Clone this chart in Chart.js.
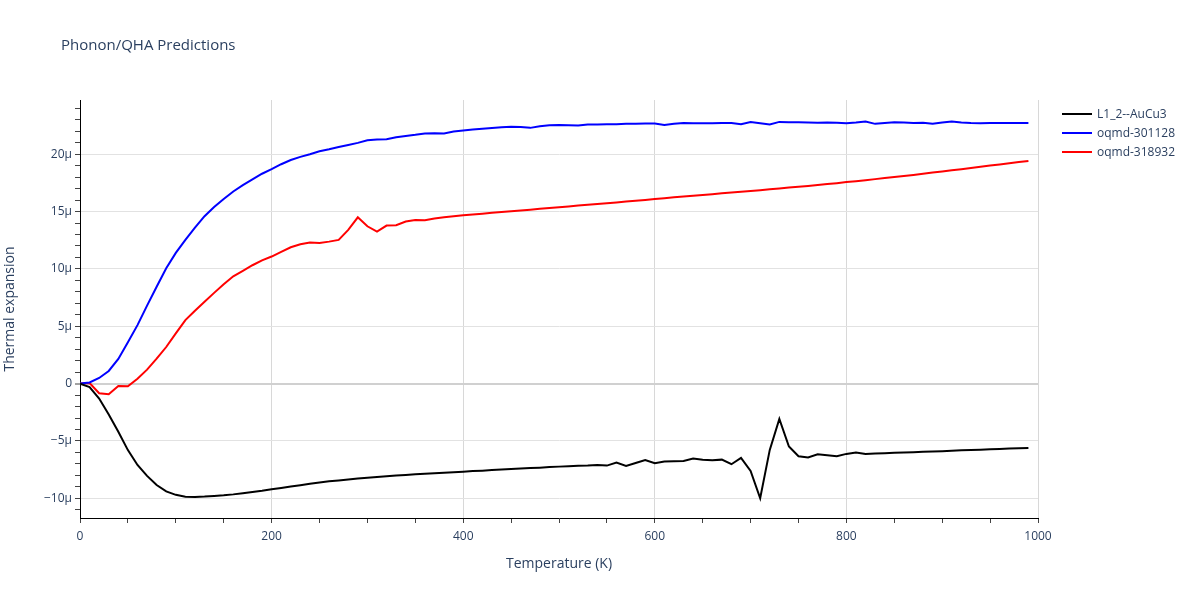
<!DOCTYPE html>
<html><head><meta charset="utf-8">
<script src="https://cdn.jsdelivr.net/npm/chart.js@4.4.0/dist/chart.umd.min.js"></script>
<style>
body{margin:0;background:#fff;font-family:"Open Sans",sans-serif;}
#wrap{position:relative;width:1200px;height:600px;}
#title{position:absolute;left:61px;top:34px;font-size:15px;color:#2a3f5f;white-space:nowrap;}
.leg{position:absolute;left:1062px;height:18px;font-size:12px;color:#2a3f5f;white-space:nowrap;}
.leg span.l{position:absolute;left:0;top:8px;width:30px;height:2px;}
.leg span.t{position:absolute;left:35px;top:0;line-height:18px;}
canvas{position:absolute;left:0;top:0;}
</style></head>
<body><div id="wrap">
<canvas id="c" width="1200" height="600"></canvas>
<div id="title">Phonon/QHA Predictions</div>
<div id="legend"></div>
</div>
<script>
const temperatures = [0,10,20,30,40,50,60,70,80,90,100,110,120,130,140,150,160,170,180,190,200,210,220,230,240,250,260,270,280,290,300,310,320,330,340,350,360,370,380,390,400,410,420,430,440,450,460,470,480,490,500,510,520,530,540,550,560,570,580,590,600,610,620,630,640,650,660,670,680,690,700,710,720,730,740,750,760,770,780,790,800,810,820,830,840,850,860,870,880,890,900,910,920,930,940,950,960,970,980,990];
const seriesNames = ["L1_2--AuCu3","oqmd-301128","oqmd-318932"];
// thermal expansion in units of 1e-6 (μ)
const auCu3 = [0,-0.3,-1.3,-2.7,-4.2,-5.8,-7.1,-8.05,-8.85,-9.4,-9.7,-9.86,-9.88,-9.85,-9.8,-9.74,-9.66,-9.56,-9.46,-9.35,-9.22,-9.1,-8.98,-8.86,-8.74,-8.62,-8.52,-8.44,-8.36,-8.28,-8.2,-8.14,-8.08,-8.02,-7.96,-7.91,-7.86,-7.81,-7.77,-7.72,-7.68,-7.63,-7.59,-7.54,-7.5,-7.45,-7.41,-7.37,-7.33,-7.28,-7.24,-7.2,-7.16,-7.14,-7.1,-7.15,-6.89,-7.18,-6.92,-6.66,-6.95,-6.8,-6.77,-6.74,-6.54,-6.63,-6.69,-6.63,-7.03,-6.48,-7.62,-10.0,-5.78,-3.08,-5.49,-6.34,-6.45,-6.16,-6.25,-6.34,-6.13,-6.0,-6.13,-6.1,-6.07,-6.04,-6.01,-5.98,-5.95,-5.92,-5.89,-5.86,-5.82,-5.79,-5.76,-5.73,-5.7,-5.67,-5.64,-5.61];
const oqmd301128 = [0,0.1,0.49,1.1,2.15,3.6,5.1,6.8,8.45,10.06,11.4,12.54,13.6,14.6,15.4,16.1,16.75,17.3,17.8,18.3,18.7,19.13,19.5,19.77,20.0,20.26,20.44,20.64,20.81,20.99,21.22,21.28,21.31,21.48,21.6,21.69,21.8,21.83,21.8,21.98,22.08,22.15,22.22,22.28,22.35,22.4,22.38,22.3,22.44,22.53,22.56,22.53,22.5,22.59,22.59,22.62,22.62,22.65,22.65,22.67,22.67,22.56,22.65,22.73,22.7,22.7,22.7,22.73,22.73,22.62,22.82,22.7,22.59,22.82,22.8,22.78,22.77,22.75,22.76,22.74,22.7,22.76,22.85,22.65,22.73,22.79,22.76,22.73,22.75,22.65,22.76,22.85,22.76,22.72,22.7,22.72,22.72,22.72,22.72,22.72];
const oqmd318932 = [0,0.05,-0.84,-0.93,-0.2,-0.23,0.43,1.22,2.17,3.19,4.38,5.54,6.35,7.13,7.91,8.67,9.36,9.83,10.32,10.75,11.08,11.48,11.89,12.15,12.3,12.27,12.38,12.53,13.4,14.5,13.72,13.26,13.78,13.81,14.13,14.27,14.24,14.39,14.5,14.59,14.68,14.75,14.82,14.89,14.96,15.03,15.1,15.17,15.24,15.31,15.38,15.45,15.52,15.59,15.66,15.73,15.8,15.87,15.94,16.02,16.1,16.17,16.24,16.31,16.38,16.45,16.52,16.59,16.66,16.73,16.8,16.87,16.94,17.01,17.09,17.16,17.24,17.32,17.4,17.48,17.57,17.65,17.74,17.83,17.92,18.01,18.1,18.2,18.3,18.4,18.5,18.6,18.7,18.8,18.91,19.01,19.11,19.21,19.32,19.42];
const seriesColors = ["#000000","#0000ff","#ff0000"];
const xTickValues = [0,50,100,150,200,250,300,350,400,450,500,550,600,650,700,750,800,850,900,950,1000];
const xTickLabels = {0:"0",200:"200",400:"400",600:"600",800:"800",1000:"1000"};
const yTickValues = [-11,-10,-9,-8,-7,-6,-5,-4,-3,-2,-1,0,1,2,3,4,5,6,7,8,9,10,11,12,13,14,15,16,17,18,19,20,21,22,23,24];
const yTickLabels = {"-10":"\u221210\u03bc","-5":"\u22125\u03bc","0":"0","5":"5\u03bc","10":"10\u03bc","15":"15\u03bc","20":"20\u03bc"};

const allSeries = [auCu3, oqmd301128, oqmd318932];
const datasets = allSeries.map((vals,i)=>({
  label: seriesNames[i],
  data: temperatures.map((t,j)=>({x:t,y:vals[j]})),
  borderColor: seriesColors[i],
  backgroundColor: seriesColors[i],
  borderWidth: 2,
  pointRadius: 0,
  tension: 0,
  fill: false
}));

// legend as HTML text
const leg = document.getElementById('legend');
seriesNames.forEach((n,i)=>{
  const d = document.createElement('div');
  d.className='leg';
  d.style.top = (105 + i*19) + 'px';
  d.innerHTML = '<span class="l" style="background:'+seriesColors[i]+'"></span><span class="t">'+n+'</span>';
  leg.appendChild(d);
});

const fontFam = '"Open Sans", sans-serif';
new Chart(document.getElementById('c'), {
  type: 'line',
  data: { datasets },
  options: {
    responsive: false,
    animation: false,
    devicePixelRatio: 1,
    layout: { padding: { left: 0, top: 100, right: 162, bottom: 0 } },
    plugins: { legend: { display: false }, title: { display: false }, tooltip: { enabled: false } },
    scales: {
      x: {
        type: 'linear', min: 0, max: 1000,
        afterFit: s => { s.height = 82; },
        afterBuildTicks: s => { s.ticks = xTickValues.map(v=>({value:v})); },
        ticks: { autoSkip: false, maxRotation: 0, padding: 6, color: '#2a3f5f',
          font: { family: fontFam, size: 12 },
          callback: v => (xTickLabels[v] !== undefined ? xTickLabels[v] : '') },
        grid: {
          drawTicks: true, tickLength: 5,
          color: c => (c.tick && c.tick.value % 200 === 0 && c.tick.value !== 0) ? '#d8d8d8' : 'rgba(0,0,0,0)',
          tickColor: '#444', tickWidth: 1
        },
        border: { display: true, color: '#000', width: 1 },
        title: { display: true, text: 'Temperature (K)', color: '#2a3f5f',
          font: { family: fontFam, size: 14 }, padding: { top: 0, bottom: 28 } }
      },
      y: {
        type: 'linear', min: -11.72, max: 24.73,
        afterFit: s => { s.width = 80; },
        afterBuildTicks: s => { s.ticks = yTickValues.map(v=>({value:v})); },
        ticks: { autoSkip: false, padding: 3, color: '#2a3f5f',
          font: { family: fontFam, size: 12 },
          callback: v => (yTickLabels[String(v)] !== undefined ? yTickLabels[String(v)] : '') },
        grid: {
          drawTicks: true, tickLength: 5,
          color: c => !c.tick ? 'rgba(0,0,0,0)' : (c.tick.value === 0 ? '#d0d0d0' : (c.tick.value % 5 === 0 ? '#e2e2e2' : 'rgba(0,0,0,0)')),
          lineWidth: c => (c.tick && c.tick.value === 0) ? 2 : 1,
          tickColor: '#444', tickWidth: 1
        },
        border: { display: true, color: '#000', width: 1 },
        title: { display: true, text: 'Thermal expansion', color: '#2a3f5f',
          font: { family: fontFam, size: 14 }, padding: { top: 2, bottom: 0 } }
      }
    }
  }
});
</script>
</body></html>
